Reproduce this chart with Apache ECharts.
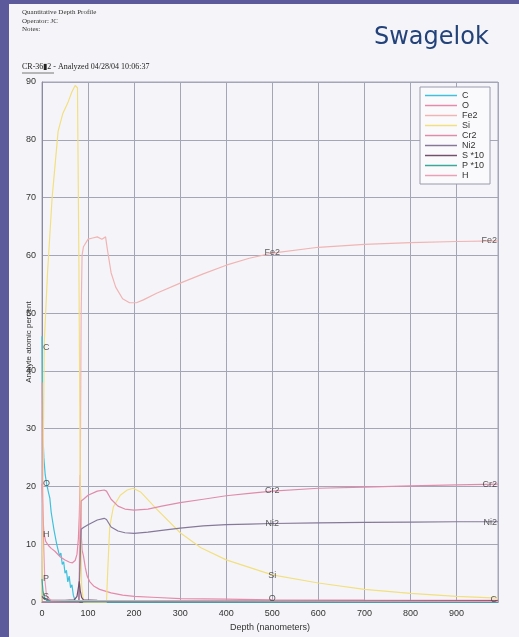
<!DOCTYPE html>
<html>
<head>
<meta charset="utf-8">
<script src="https://cdn.jsdelivr.net/npm/echarts@6/dist/echarts.min.js"></script>
<style>
  html, body { margin: 0; padding: 0; background: #5d5a9c; }
  #chart { width: 519px; height: 637px; }
</style>
</head>
<body>
<div id="chart"></div>
<script>
// depth (nm) / atomic percent
var cDepth = [0, 1, 2, 4, 7, 10, 14, 17, 20, 23, 26, 29, 32, 35, 38, 41, 44, 47, 50, 53, 56, 59, 62, 65, 68, 70, 72, 75, 100, 500, 990];
var cValue = [46, 36, 29, 25, 22, 20.5, 19, 18, 15.5, 15.8, 12.5, 12.8, 10, 10.3, 8, 8.5, 6.5, 7, 5, 5.5, 3.5, 4.5, 2.5, 3, 1.2, 1.5, 0.2, 0, 0, 0, 0];

var oDepth = [0, 2, 4, 8, 14, 20, 28, 40, 50, 60, 66, 72, 76, 79, 81, 83, 85, 87, 90, 94, 98, 104, 112, 125, 150, 175, 200, 250, 300, 400, 500, 700, 990];
var oValue = [20.5, 15, 12, 10.5, 9.8, 9.3, 8.8, 7.8, 7.3, 6.9, 6.8, 7.2, 8.3, 11, 15, 22, 12, 9, 8, 6, 4.5, 3.5, 2.8, 2.2, 1.6, 1.2, 1.0, 0.8, 0.6, 0.5, 0.4, 0.35, 0.3];

var feDepth = [0, 80, 83, 85, 87, 90, 100, 110, 120, 130, 138, 142, 150, 160, 175, 190, 205, 220, 250, 300, 350, 400, 450, 500, 600, 700, 800, 900, 990];
var feValue = [0, 0, 20, 50, 60, 61.5, 62.8, 63, 63.2, 62.8, 63.2, 61, 57, 54.5, 52.5, 51.8, 51.8, 52.3, 53.5, 55.2, 56.8, 58.3, 59.5, 60.4, 61.4, 61.9, 62.2, 62.4, 62.5];

var siDepth = [0, 2, 5, 12, 22, 35, 45, 57, 65, 72, 77, 80, 83, 86, 90, 140, 143, 147, 155, 170, 185, 198, 215, 250, 300, 345, 400, 500, 600, 700, 800, 900, 990];
var siValue = [0, 20, 45, 57, 70, 81.5, 84.5, 86.6, 88.3, 89.4, 89, 60, 20, 3, 0, 0, 6, 13, 16.5, 18.5, 19.4, 19.7, 19, 16, 12, 9.4, 7.3, 4.7, 3.3, 2.2, 1.5, 1.0, 0.7];

var crDepth = [0, 80, 83, 85, 90, 100, 120, 135, 140, 150, 165, 180, 200, 230, 260, 300, 350, 400, 450, 500, 600, 700, 800, 900, 990];
var crValue = [0, 0, 10, 17.5, 17.8, 18.5, 19.2, 19.4, 19.2, 17.8, 16.6, 16.1, 15.9, 16.1, 16.6, 17.2, 17.8, 18.4, 18.8, 19.2, 19.7, 19.9, 20.1, 20.3, 20.4];

var niDepth = [0, 80, 83, 85, 90, 100, 120, 135, 140, 150, 165, 180, 200, 230, 260, 300, 350, 400, 450, 500, 600, 700, 800, 900, 990];
var niValue = [0, 0, 8, 12.6, 12.9, 13.4, 14.2, 14.5, 14.3, 13.0, 12.3, 12.0, 11.9, 12.1, 12.4, 12.8, 13.2, 13.4, 13.5, 13.6, 13.7, 13.8, 13.85, 13.9, 13.9];

var sDepth = [0, 5, 20, 50, 70, 76, 79, 81, 83, 86, 90, 120, 200, 500, 990];
var sValue = [1.0, 0.5, 0.3, 0.3, 0.4, 1.0, 2.5, 3.6, 2.0, 0.8, 0.4, 0.3, 0.2, 0.2, 0.2];

var pDepth = [0, 2, 5, 10, 30, 60, 990];
var pValue = [4, 2, 0.8, 0.3, 0.2, 0.1, 0.1];

var hDepth = [0, 1, 3, 6, 10, 20, 990];
var hValue = [38, 20, 11.7, 4, 1, 0.3, 0.1];

var legendNames = ['C', 'O', 'Fe2', 'Si', 'Cr2', 'Ni2', 'S *10', 'P *10', 'H'];

// curve labels printed inside the plot
var annText = ['C', 'O', 'H', 'P', 'S', 'Fe2', 'Fe2', 'Cr2', 'Cr2', 'Ni2', 'Ni2', 'Si', 'O', 'C'];
var annX = [0, 0, 0, 0, 0, 500, 990, 500, 990, 500, 990, 500, 500, 990];
var annY = [44, 20.5, 11.7, 4, 1, 60.5, 62.5, 19.3, 20.3, 13.6, 13.7, 4.6, 0.6, 0.5];

var xTicks = [0, 100, 200, 300, 400, 500, 600, 700, 800, 900];
var yTicks = [0, 10, 20, 30, 40, 50, 60, 70, 80, 90];

function pairs(xs, ys) {
  return xs.map(function (x, i) { return [x, ys[i]]; });
}

function line(name, xs, ys, color) {
  return {
    name: name, type: 'line', data: pairs(xs, ys),
    symbol: 'none', smooth: false, animation: false,
    lineStyle: { color: color, width: 1.2 }, itemStyle: { color: color }
  };
}

var annData = annText.map(function (t, i) {
  var pos = annX[i] === 0 ? 'right' : (annX[i] === 990 ? 'left' : 'inside');
  return { value: [annX[i], annY[i]], label: { formatter: t, position: pos, distance: 1 } };
});

var chart = echarts.init(document.getElementById('chart'));
chart.setOption({
  backgroundColor: '#5d5a9c',
  animation: false,
  textStyle: { fontFamily: 'Liberation Sans, Arial, sans-serif' },
  graphic: [
    { type: 'rect', z: -100, shape: { x: 9, y: 4, width: 510, height: 633 }, style: { fill: '#f5f5f9' } },
    { type: 'text', left: 22, top: 8, style: { text: 'Quantitative Depth Profile\nOperator: JC\nNotes:', font: '7px "Liberation Serif"', fill: '#333', lineHeight: 8.5 } },
    { type: 'text', left: 374, top: 26, style: { text: 'Swagelok', font: '24px "DejaVu Sans"', fill: '#23427a' } },
    { type: 'text', left: 22, top: 63, style: { text: 'CR-36\u25AE2 - Analyzed 04/28/04 10:06:37', font: '8px "Liberation Serif"', fill: '#222' } },
    { type: 'line', shape: { x1: 22, y1: 73, x2: 54, y2: 73 }, style: { stroke: '#555', lineWidth: 0.8 } }
  ],
  grid: { left: 42, right: 21, top: 82, bottom: 29, show: true, borderColor: '#a5a5b8', borderWidth: 1 },
  legend: {
    data: legendNames, orient: 'vertical', left: 420, top: 87,
    icon: 'rect', itemWidth: 32, itemHeight: 1.5, itemGap: 1.0,
    padding: [4, 6, 4, 5],
    backgroundColor: '#fafafc', borderColor: '#9a9aae', borderWidth: 1,
    textStyle: { fontSize: 9, color: '#333' }
  },
  xAxis: {
    type: 'value', min: 0, max: 990, interval: 100,
    name: 'Depth (nanometers)', nameLocation: 'middle', nameGap: 16,
    nameTextStyle: { fontSize: 9, color: '#333' },
    axisLine: { lineStyle: { color: '#666' } },
    axisTick: { show: false },
    axisLabel: { fontSize: 9, color: '#333', margin: 7, showMaxLabel: false,
      formatter: function (v) { return xTicks.indexOf(v) >= 0 ? String(v) : ''; } },
    splitLine: { lineStyle: { color: '#a5a5b8', width: 1 } }
  },
  yAxis: {
    type: 'value', min: 0, max: 90, interval: 10,
    name: 'Analyte atomic percent', nameLocation: 'middle', nameGap: 9,
    nameMoveOverlap: false,
    nameTextStyle: { fontSize: 8, color: '#333' },
    axisLine: { show: true, lineStyle: { color: '#8a8aa0' } },
    axisTick: { show: false },
    axisLabel: { fontSize: 9, color: '#333', margin: 6,
      formatter: function (v) { return yTicks.indexOf(v) >= 0 ? String(v) : ''; } },
    splitLine: { lineStyle: { color: '#a5a5b8', width: 1 } }
  },
  series: [
    line('C', cDepth, cValue, '#3fc0dc'),
    line('O', oDepth, oValue, '#e58aaa'),
    line('Fe2', feDepth, feValue, '#f0b4b4'),
    line('Si', siDepth, siValue, '#f2df80'),
    line('Cr2', crDepth, crValue, '#df8cab'),
    line('Ni2', niDepth, niValue, '#86789a'),
    line('S *10', sDepth, sValue, '#74506e'),
    line('P *10', pDepth, pValue, '#3aa89a'),
    line('H', hDepth, hValue, '#eaa0b6'),
    {
      name: 'labels', type: 'scatter', data: annData, symbolSize: 0, z: 5,
      label: { show: true, fontSize: 9, color: '#333' }, silent: true
    }
  ]
});
</script>
</body>
</html>
